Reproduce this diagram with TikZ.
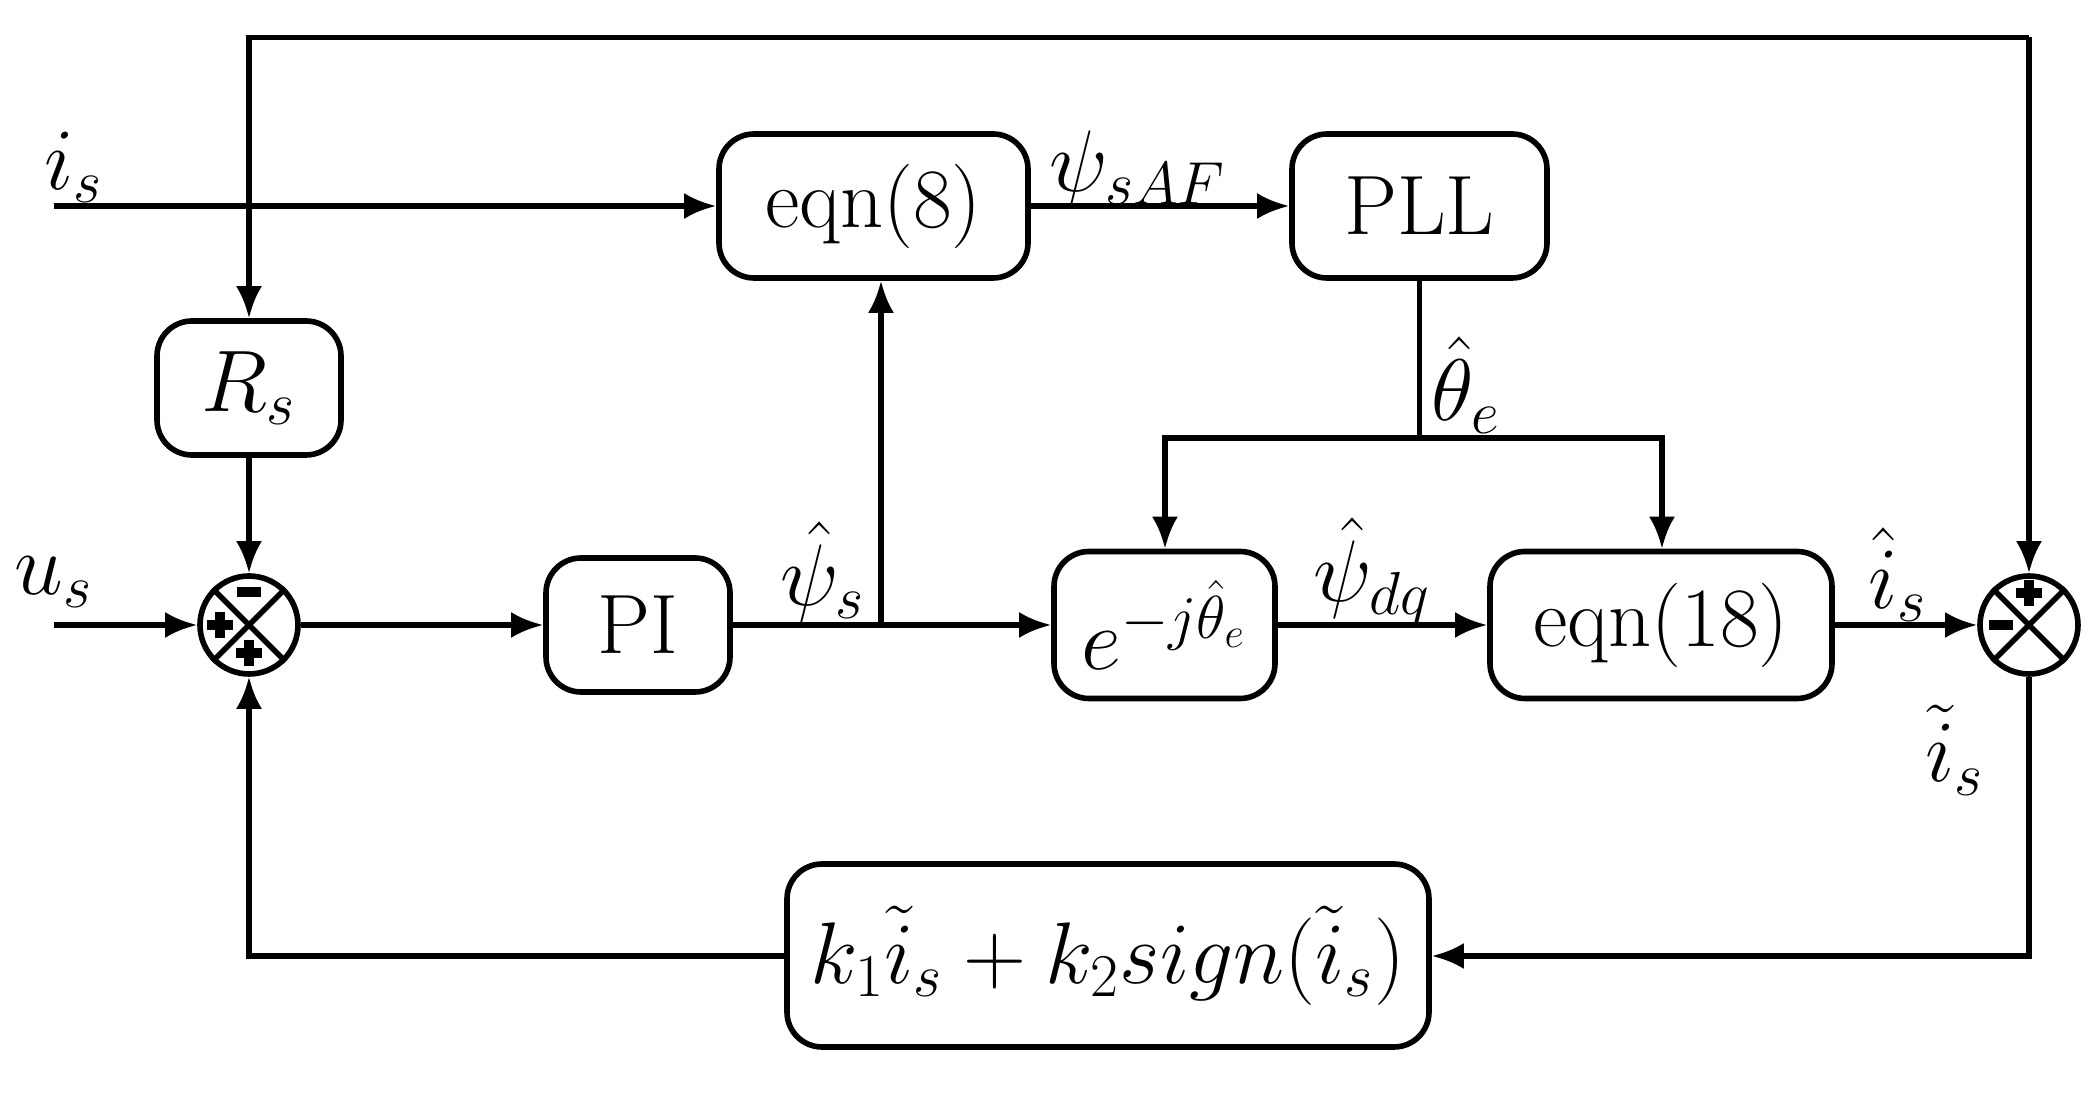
\documentclass[tikz,border=0pt]{standalone}
\usetikzlibrary{arrows.meta}
\begin{document}
\begin{tikzpicture}[x=1cm,y=1cm,line width=1.5pt,
  blk/.style={draw,rounded corners=0.35cm,line width=1.6pt,inner sep=0pt,font=\fontsize{24}{28}\selectfont},
  sj/.style={draw,circle,minimum size=0.98cm,inner sep=0pt,line width=1.6pt},
  ar/.style={-{Latex[length=0.32cm,width=0.26cm]}},
  lab/.style={font=\fontsize{24}{28}\selectfont}]
\useasboundingbox (0,0) rectangle (21,-10.95);
\node[blk,minimum width=3.09cm,minimum height=1.44cm] (e8) at (8.735,-2.06) {eqn(8)};
\node[blk,minimum width=2.55cm,minimum height=1.44cm] (pll) at (14.195,-2.06) {PLL};
\node[blk,minimum width=1.84cm,minimum height=1.34cm] (rs) at (2.49,-3.88) {$R_s$};
\node[blk,minimum width=1.84cm,minimum height=1.34cm] (pi) at (6.38,-6.25) {PI};
\node[blk,minimum width=2.21cm,minimum height=1.47cm] (ej) at (11.645,-6.25) {$e^{-j\hat\theta_e}$};
\node[blk,minimum width=3.42cm,minimum height=1.47cm] (e18) at (16.61,-6.25) {eqn(18)};
\node[blk,minimum width=6.42cm,minimum height=1.83cm,font=\fontsize{23}{27}\selectfont] (fb) at (11.08,-9.555) {$k_1\tilde{i}_s+k_2 sign\big(\tilde{i}_s\big)$};
\node[sj] (s1) at (2.49,-6.25) {};
\node[sj] (s2) at (20.29,-6.25) {};
\foreach \s in {s1,s2}{
  \draw[line width=1.6pt] (\s.45)--(\s.225) (\s.135)--(\s.315);}
\begin{scope}[line width=2.6pt]
\draw (2.37,-5.92)--(2.61,-5.92);
\draw (2.07,-6.25)--(2.33,-6.25) (2.20,-6.12)--(2.20,-6.38);
\draw (2.36,-6.53)--(2.62,-6.53) (2.49,-6.40)--(2.49,-6.66);
\draw (20.16,-5.93)--(20.42,-5.93) (20.29,-5.80)--(20.29,-6.06);
\draw (19.89,-6.25)--(20.13,-6.25);
\end{scope}
\coordinate (tl) at (2.49,-0.375);
\coordinate (tr) at (20.29,-0.375);
\draw[ar] (s2.north |- tr) -- (tl) -- (rs.north);
\draw[ar] (tr) -- (s2.north);
\draw[ar] (rs) -- (s1);
\coordinate (is0) at (0.54,-2.06);
\draw[ar] (is0) -- (e8.west);
\node[lab] (is) at (0.74,-1.67) {$i_s$};
\coordinate (us0) at (0.54,-6.25);
\draw[ar] (us0) -- (s1.west);
\node[lab] (us) at (0.54,-5.82) {$u_s$};
\draw[ar] (s1.east) -- (pi.west);
\coordinate (j1) at (8.81,-6.25);
\draw[ar] (pi.east) -- (ej.west);
\draw[ar] (j1) -- (e8.south -| j1);
\node[lab] (psis) at (8.23,-5.72) {$\hat\psi_s$};
\draw[ar] (e8.east) -- (pll.west);
\node[lab] (psaf) at (11.38,-1.7) {$\psi_{sAF}$};
\coordinate (b) at (14.195,-4.38);
\draw (pll.south) -- (b);
\draw[ar] (b) -- (11.65,-4.38) -- (ej.north -| 11.65,0);
\draw[ar] (b) -- (16.62,-4.38) -- (e18.north -| 16.62,0);
\node[lab] (th) at (14.66,-3.85) {$\hat\theta_e$};
\draw[ar] (ej.east) -- (e18.west);
\node[lab] (pdq) at (13.72,-5.72) {$\hat\psi_{dq}$};
\draw[ar] (e18.east) -- (s2.west);
\node[lab] (ih) at (18.98,-5.75) {$\hat{i}_s$};
\node[lab] (it) at (19.55,-7.5) {$\tilde{i}_s$};
\coordinate (br) at (20.29,-9.56);
\coordinate (bl) at (2.49,-9.56);
\draw[ar] (s2.south) -- (br) -- (fb.east |- br);
\draw[ar] (fb.west |- bl) -- (bl) -- (s1.south);
\end{tikzpicture}
\end{document}
